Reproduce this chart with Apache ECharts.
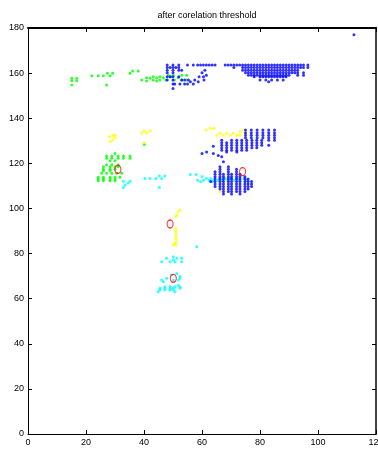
<!DOCTYPE html>
<html><head><meta charset="utf-8">
<script src="https://cdn.jsdelivr.net/npm/echarts@6/dist/echarts.min.js"></script>
<style>html,body{margin:0;padding:0;background:#fff}#c{width:378px;height:452px}</style>
</head><body><div id="c"></div>
<script>
var title = 'after corelation threshold';
var xTicks = [0, 20, 40, 60, 80, 100, 120];
var yTicks = [0, 20, 40, 60, 80, 100, 120, 140, 160, 180];

// Each row: [y, [x values...]]
var greenRows = [
  [157.7, [15.1, 16.8]], [156.6, [15.1, 16.8]], [154.7, [15.1]],
  [158.8, [22, 24.2, 26, 28.3]], [159.9, [27.4, 29.2]], [154.7, [27.1]],
  [159.9, [35.2]], [160.9, [36.1, 38]],
  [159.1, [48.4, 50.1, 53, 54.7]], [158.4, [43.2, 45.5, 49.2]],
  [157.9, [40.9, 44.4, 46.7, 51.8]], [157.7, [42.1]],
  [156.9, [39.2, 43.2, 45.5, 47.5, 50.5, 53, 54.7]], [156.5, [40.9, 44.4]],
  [128.3, [40.1]],
  [124.4, [30]], [123.3, [27.1, 28.9, 31.1, 32.9, 35.2]], [122.2, [27.1, 28.9, 31.1, 32.9, 35.2]],
  [121.1, [28.3, 30]], [119.4, [27.1, 28.9, 31.1]],
  [118.5, [26, 28.3, 30, 31.1]], [117.4, [26, 28.3, 30]], [116.7, [26, 28.3]],
  [115.6, [25.4, 27.1, 28.9, 30.6, 32.3]],
  [113.8, [24.2, 26, 28.3, 30, 31.7]], [113, [24.2, 26, 28.3, 30]], [112.3, [24.2, 26, 28.3, 30]]
];
var yellowRows = [
  [132.5, [29.2, 30]], [131.8, [28]], [131.5, [30]], [130.3, [29.2]], [129.6, [28.3]],
  [134.4, [40.1, 42.1]], [133.6, [39.2, 40.9]], [129.1, [40]],
  [135.5, [62.8, 64.1]], [134.8, [61.4, 74.2]], [134, [73.1]],
  [133.3, [66.2, 68.5, 70.8, 74.8]], [132.5, [65.1, 67.4, 69.7, 72, 73.1]],
  [107.4, [66.2]],
  [99.3, [52.4]], [98.5, [51.8]], [97.1, [51.3]], [96.3, [51]],
  [91.2, [51]], [90, [51]], [88.8, [51]], [87.6, [51]], [86.4, [51]], [85.2, [51]], [84.5, [50.6]], [83.8, [50.1, 51]]
];
var cyanRows = [
  [112.1, [32.9, 35.2]], [111.3, [34.5]], [110.4, [33.5]], [109.3, [32.9]],
  [114.4, [45.3, 47.2]], [113.3, [40.3, 42.1, 44.1, 46.1]], [109.3, [45.3]],
  [115, [56, 58]], [114.2, [60]], [113.3, [61.5, 63, 66, 68, 70, 72, 74.5]],
  [112.5, [58.5, 60.5, 62.5, 64, 65.5, 67, 69, 71, 73, 75.5]], [111.8, [59.5, 63.5]],
  [83, [58.2]],
  [78.6, [50.1]], [77.9, [47.8, 51.3, 53]], [77.1, [50.1]], [76.4, [46.1, 49, 50.7, 53]],
  [71.2, [51.3]], [70.5, [49.5]], [69.8, [52.4]], [69, [47.8, 52.4]], [68.3, [46.1, 50.1, 51.8]],
  [67.5, [46.7]], [66, [51.8]], [65.3, [47.2, 49, 50.7, 52.4]], [64.6, [45.5, 47.2, 49, 50.1, 52.4]],
  [63.8, [45.5, 47.2, 49, 50.1]], [63.1, [44.9, 50.7]]
];
var blueRows = [
  [177, [112.4]],
  [163.6, [48, 50, 52, 55, 57, 58.5, 59.5, 60.5, 61.5, 62.5, 63.5, 64.5,
           68, 69, 70, 71, 72, 73, 74, 75, 76, 77, 78, 79, 80, 81, 82, 83, 84, 85, 86, 87, 88, 89, 90, 91, 92, 93, 94, 95, 96.5]],
  [162.5, [48, 49, 50, 51, 52, 71, 74, 75, 76, 77, 78, 79, 80, 81, 82, 83, 84, 85, 86, 87, 88, 89, 90, 91, 92, 93, 94, 95, 96.5]],
  [161.3, [48, 50, 52, 53, 61, 74, 75, 76, 77, 78, 79, 80, 81, 82, 83, 84, 85, 86, 87, 88, 89, 90, 91, 92, 93]],
  [160.2, [48, 50, 60, 75, 76, 77, 78, 79, 80, 81, 82, 83, 84, 85, 86, 87, 88, 89, 90, 91, 92, 93, 95]],
  [159.1, [61.5, 76, 77, 78, 79, 80, 81, 82, 83, 84, 85, 86, 87, 88, 89, 90, 93, 95]],
  [158.4, [48, 49, 50, 52, 59, 60.5, 78, 80, 81, 82, 83, 84, 85, 86, 87, 88, 89]],
  [156.9, [48, 50, 53, 54, 55.3, 57.5, 60.7, 80, 82, 84, 86, 88]],
  [156.2, [56, 58.7, 83]],
  [155.2, [50, 50.6, 52.4, 54, 55, 57]],
  [153.2, [50]],
  [134.8, [75, 77, 79, 81, 83, 85]], [133.6, [75, 77, 79, 81, 83, 85]],
  [132.5, [75, 77, 79, 81, 83, 85]], [131.3, [75, 77, 79, 81, 83, 85]],
  [130.2, [66.8, 70.2, 72, 73.7, 75.4, 77.2, 78.9, 80.6, 83, 85]],
  [129.1, [66.8, 68.5, 70.2, 72, 73.7, 75.4, 77.2, 78.9, 80.6]],
  [128, [66.8, 68.5, 70.2, 72, 73.7, 75.4, 77.2, 78.9, 80.6, 83]],
  [127.6, [63.9]],
  [126.9, [66.8, 68.5, 70.2, 72, 73.7, 75.4, 77.2, 78.9]],
  [125.8, [66.8, 68.5, 70.2, 72, 73.7, 75.4]],
  [125, [61.6, 68.5, 72]],
  [124.4, [60, 63.9]], [123.5, [65.6]], [122.9, [66.8]], [120.7, [67.4]],
  [118.5, [66.2, 69.1]], [117.4, [66.2, 69.1, 71.9]], [116.3, [64.5, 66.2, 69.1, 71.9]],
  [115.2, [64.5, 66.2, 67.4, 69.1, 70.2, 71.9, 73.1]],
  [114.1, [64.5, 66.2, 67.4, 69.1, 70.2, 71.9, 73.1, 74.8]],
  [113, [64.5, 66.2, 67.4, 69.1, 70.2, 71.9, 73.1, 74.8, 75.9]],
  [111.9, [63, 64.5, 66.2, 67.4, 69.1, 70.2, 71.9, 73.1, 74.8, 75.9, 77.1]],
  [110.8, [64.5, 66.2, 67.4, 69.1, 70.2, 71.9, 73.1, 74.8, 75.9, 77.1]],
  [109.7, [64.5, 66.2, 67.4, 69.1, 70.2, 71.9, 73.1, 74.8, 75.9, 77.1]],
  [108.6, [66.2, 67.4, 69.1, 70.2, 71.9, 73.1, 74.8, 75.9]],
  [107.5, [67.4, 69.1, 70.2, 71.9, 73.1, 74.8]],
  [106.4, [67.4, 70.2, 73.1]]
];
var redCircles = [[31, 117.3], [49, 93.1], [50.1, 69], [74, 116.3]];

function flatten(rows) {
  var out = [];
  rows.forEach(function (r) { r[1].forEach(function (x) { out.push([x, r[0]]); }); });
  return out;
}

var font = '"Liberation Sans Narrow", "Liberation Sans", Arial, sans-serif';
function axisBase(extra) {
  var a = {
    axisLine: { show: true, onZero: false, lineStyle: { color: '#000', width: 1 } },
    axisTick: { show: true, inside: true, length: 4, lineStyle: { color: '#000' } },
    axisLabel: { color: '#000', fontSize: 9, fontFamily: font, margin: 4 },
    splitLine: { show: false }
  };
  for (var k in extra) a[k] = extra[k];
  return a;
}

var chart = echarts.init(document.getElementById('c'));
var dotSize = 3;
chart.setOption({
  animation: false,
  title: { text: title, left: 202, top: 6, textAlign: 'center',
           textStyle: { fontSize: 9, fontWeight: 'normal', color: '#000', fontFamily: font } },
  grid: { left: 28, top: 28, right: 2, bottom: 18, containLabel: false, outerBoundsMode: 'none' },
  xAxis: [
    axisBase({ type: 'value', min: 0, max: 120, interval: 20, position: 'bottom',
               axisLabel: { color: '#000', fontSize: 9, fontFamily: font, margin: 4, alignMaxLabel: 'center' } }),
    axisBase({ type: 'value', min: 0, max: 120, interval: 20, position: 'top', axisLabel: { show: false },
               axisLine: { show: true, onZero: false, lineStyle: { color: '#000', width: 2 } } })
  ],
  yAxis: [
    axisBase({ type: 'value', min: 0, max: 180, interval: 20, position: 'left' }),
    axisBase({ type: 'value', min: 0, max: 180, interval: 20, position: 'right', axisLabel: { show: false },
               axisLine: { show: true, onZero: false, lineStyle: { color: '#444', width: 2 } } })
  ],
  series: [
    { type: 'scatter', data: flatten(greenRows), symbol: 'circle', symbolSize: dotSize, itemStyle: { color: '#00ff00' } },
    { type: 'scatter', data: flatten(yellowRows), symbol: 'circle', symbolSize: dotSize, itemStyle: { color: '#ffff00' } },
    { type: 'scatter', data: flatten(cyanRows), symbol: 'circle', symbolSize: dotSize, itemStyle: { color: '#00ffff' } },
    { type: 'scatter', data: flatten(blueRows), symbol: 'circle', symbolSize: dotSize, itemStyle: { color: '#0000ff' } },
    { type: 'scatter', data: redCircles, symbol: 'circle', symbolSize: [6, 8], z: 10,
      itemStyle: { color: 'rgba(0,0,0,0)', borderColor: '#ff0000', borderWidth: 1.2 } }
  ]
});
</script>
</body></html>
